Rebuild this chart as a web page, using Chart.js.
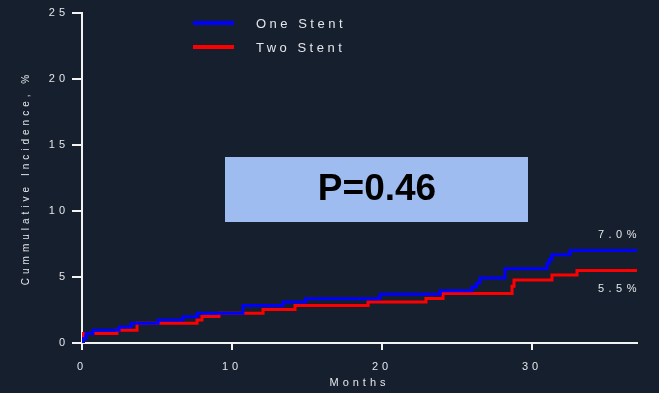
<!DOCTYPE html>
<html>
<head>
<meta charset="utf-8">
<script src="https://cdn.jsdelivr.net/npm/chart.js@4.4.0/dist/chart.umd.min.js"></script>
<style>
  html, body { margin: 0; padding: 0; background: #161f2e; }
  #wrap { width: 659px; height: 393px; }
</style>
</head>
<body>
<div id="wrap"><canvas id="incChart" width="659" height="393"></canvas></div>
<script>
// ─── data: months of each step and cumulative incidence (%) after it ───
const oneStentMonths = [0, 0.1, 0.27, 0.73, 2.47, 3.27, 5.07, 6.73, 7.67, 10.73, 13.4, 14.9, 19.87, 23.87, 26.0, 26.3, 26.53, 28.2, 31.0, 31.15, 31.33, 32.53, 37];
const oneStentPct    = [0, 0.35, 0.72, 0.97, 1.21, 1.5, 1.74, 1.99, 2.25, 2.84, 3.1, 3.35, 3.7, 3.95, 4.25, 4.55, 4.93, 5.62, 6.05, 6.35, 6.68, 7.0, 7.0];
const twoStentMonths = [0, 0.05, 2.33, 3.67, 7.67, 8.0, 9.13, 12.07, 14.2, 19.07, 22.93, 24.07, 28.67, 28.8, 31.33, 33.0, 37];
const twoStentPct    = [0, 0.72, 0.97, 1.5, 1.75, 2.0, 2.26, 2.53, 2.85, 3.1, 3.38, 3.75, 4.3, 4.78, 5.15, 5.5, 5.5];
const seriesNames = ['One Stent', 'Two Stent'];
const seriesColors = ['#0000ff', '#ff0000'];
const xTickValues = [0, 10, 20, 30];
const yTickValues = [0, 5, 10, 15, 20, 25];
const pValueText = 'P=0.46';

const BG = '#161f2e';
const INK = '#e4e6ea';
const AXIS = '#f2f2f2';
const FONT = 'Liberation Sans, Arial, sans-serif';

function toPoints(xs, ys) {
    return xs.map((x, i) => ({ x, y: ys[i] }));
}

// background + wide letter spacing for every text Chart.js draws
const spacingPlugin = {
    id: 'spacing',
    beforeUpdate(chart) { chart.ctx.letterSpacing = '4px'; },
    beforeDraw(chart) {
        const ctx = chart.ctx;
        ctx.save();
        ctx.fillStyle = BG;
        ctx.fillRect(0, 0, chart.width, chart.height);
        ctx.restore();
        ctx.letterSpacing = '4px';
    }
};

// legend, end-of-curve percentages and the p-value box
const overlayPlugin = {
    id: 'overlay',
    afterDraw(chart) {
        const ctx = chart.ctx;
        const ys = chart.scales.y;
        const area = chart.chartArea;
        ctx.save();

        // legend
        chart.data.datasets.forEach((ds, i) => {
            const y = 23 + i * 24;
            ctx.strokeStyle = ds.borderColor;
            ctx.lineWidth = 4;
            ctx.beginPath();
            ctx.moveTo(193, y);
            ctx.lineTo(234, y);
            ctx.stroke();
            ctx.font = '13px ' + FONT;
            ctx.letterSpacing = '3.5px';
            ctx.fillStyle = INK;
            ctx.textAlign = 'left';
            ctx.textBaseline = 'middle';
            ctx.fillText(ds.label, 256, y + 1);
        });

        // final values
        ctx.font = '11px ' + FONT;
        ctx.letterSpacing = '4.5px';
        ctx.textAlign = 'right';
        ctx.textBaseline = 'middle';
        const lastOne = oneStentPct[oneStentPct.length - 1];
        const lastTwo = twoStentPct[twoStentPct.length - 1];
        ctx.fillText(lastOne.toFixed(1) + '%', area.right + 4, ys.getPixelForValue(lastOne) - 16);
        ctx.fillText(lastTwo.toFixed(1) + '%', area.right + 4, ys.getPixelForValue(lastTwo) + 19);

        // p-value box
        ctx.fillStyle = '#9fbcf0';
        ctx.fillRect(225, 157, 303, 65);
        ctx.letterSpacing = '0px';
        ctx.font = 'bold 37px ' + FONT;
        ctx.fillStyle = '#000';
        ctx.textAlign = 'center';
        ctx.textBaseline = 'middle';
        ctx.fillText(pValueText, 377, 190);

        ctx.restore();
        ctx.letterSpacing = '4px';
    }
};

new Chart(document.getElementById('incChart'), {
    type: 'line',
    data: {
        datasets: [
            { label: seriesNames[0], data: toPoints(oneStentMonths, oneStentPct), borderColor: seriesColors[0], backgroundColor: seriesColors[0] },
            { label: seriesNames[1], data: toPoints(twoStentMonths, twoStentPct), borderColor: seriesColors[1], backgroundColor: seriesColors[1] }
        ]
    },
    options: {
        responsive: false,
        devicePixelRatio: 1,
        animation: false,
        layout: { padding: { left: 0, right: 22, top: 13, bottom: 0 } },
        elements: {
            line: { stepped: true, borderWidth: 3, fill: false, tension: 0 },
            point: { radius: 0, hoverRadius: 0 }
        },
        plugins: { legend: { display: false }, tooltip: { enabled: false } },
        scales: {
            x: {
                type: 'linear', min: 0, max: 37,
                afterBuildTicks: s => { s.ticks = xTickValues.map(v => ({ value: v })); },
                afterFit: s => { s.height = 50; },
                grid: { display: true, drawOnChartArea: false, drawTicks: true, tickLength: 7, color: AXIS, lineWidth: 2 },
                border: { display: true, color: AXIS, width: 2 },
                ticks: { color: INK, font: { family: FONT, size: 11 }, padding: 10, maxRotation: 0 },
                title: { display: true, text: 'Months', color: INK, font: { family: FONT, size: 11 }, padding: { top: 0, bottom: 3 } }
            },
            y: {
                type: 'linear', min: 0, max: 25,
                afterBuildTicks: s => { s.ticks = yTickValues.map(v => ({ value: v })); },
                afterFit: s => { s.width = 82; },
                grid: { display: true, drawOnChartArea: false, drawTicks: true, tickLength: 10, color: AXIS, lineWidth: 2 },
                border: { display: true, color: AXIS, width: 2 },
                ticks: { color: INK, font: { family: FONT, size: 11 }, padding: 3 },
                title: { display: true, text: 'Cummulative Incidence, %', color: INK, font: { family: FONT, size: 10 }, padding: { top: 20, bottom: 0 } }
            }
        }
    },
    plugins: [spacingPlugin, overlayPlugin]
});
</script>
</body>
</html>
